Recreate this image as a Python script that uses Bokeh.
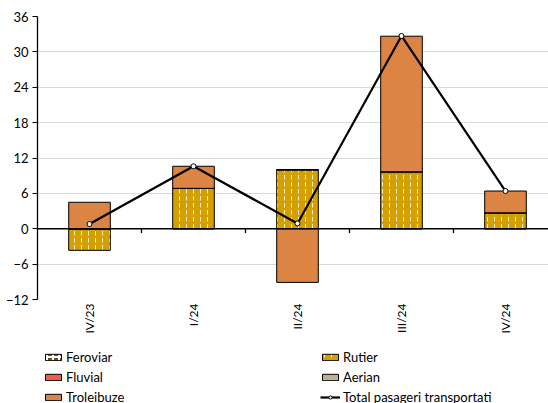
from bokeh.plotting import figure
from bokeh.layouts import column
from bokeh.models import Range1d, FixedTicker, Legend, LegendItem, Span
from bokeh.embed import file_html
from bokeh.resources import INLINE
import math

categories = ["IV/23", "I/24", "II/24", "III/24", "IV/24"]
feroviar = [0.0, 0.0, 0.0, 0.0, 0.0]
rutier = [-3.66, 6.85, 10.0, 9.66, 2.7]
fluvial = [0.0, 0.0, 0.0, 0.0, 0.0]
aerian = [0.0, 0.0, 0.0, 0.0, 0.0]
troleibuze = [4.49, 3.75, -9.1, 23.0, 3.7]
total = [0.8, 10.6, 0.9, 32.7, 6.4]
y_ticks = [-12, -6, 0, 6, 12, 18, 24, 30, 36]

FONT = "Lato"
xs = list(range(len(categories)))

p = figure(width=548, height=340, output_backend="svg", toolbar_location=None,
           x_range=Range1d(-0.5, -0.5 + 511 / 104), y_range=Range1d(-12, 36),
           min_border_left=37, min_border_right=0, min_border_top=16, min_border_bottom=41)
p.outline_line_color = None
p.xgrid.grid_line_color = None
p.ygrid.grid_line_color = "#d9d9d9"
p.ygrid.grid_line_width = 1
p.ygrid.ticker = FixedTicker(ticks=y_ticks)

p.yaxis.ticker = FixedTicker(ticks=y_ticks)
p.yaxis.axis_line_color = "black"
p.yaxis.axis_line_width = 1.3
p.yaxis.major_tick_line_color = "black"
p.yaxis.major_tick_out = 5
p.yaxis.major_tick_in = 0
p.yaxis.minor_tick_line_color = None
p.yaxis.major_label_text_font = FONT
p.yaxis.major_label_text_font_size = "13px"
p.yaxis.major_label_text_color = "black"
p.yaxis.major_label_standoff = 4

p.xaxis.ticker = FixedTicker(ticks=xs)
p.xaxis.major_label_overrides = {i: c for i, c in enumerate(categories)}
p.xaxis.axis_line_color = None
p.xaxis.major_tick_line_color = None
p.xaxis.minor_tick_line_color = None
p.xaxis.major_tick_out = 0
p.xaxis.major_label_orientation = math.pi / 2
p.xaxis.major_label_text_font = FONT
p.xaxis.major_label_text_font_size = "12px"
p.xaxis.major_label_text_color = "black"
p.xaxis.major_label_standoff = 4

series = [
    ("Feroviar", feroviar, dict(fill_color="#7a4c12", hatch_pattern="+", hatch_color="white", hatch_scale=6, hatch_weight=2)),
    ("Rutier", rutier, dict(fill_color="#d4a000", hatch_pattern=":", hatch_color="white", hatch_scale=7, hatch_weight=1, hatch_alpha=0.8)),
    ("Fluvial", fluvial, dict(fill_color="#e8604a")),
    ("Aerian", aerian, dict(fill_color="#bfae98")),
    ("Troleibuze", troleibuze, dict(fill_color="#db8443")),
]

# legend-only figure (same glyphs, drawn outside its visible range)
q = figure(width=548, height=63, output_backend="svg", toolbar_location=None,
           x_range=Range1d(100, 101), y_range=Range1d(100, 101),
           x_axis_location=None, y_axis_location=None,
           min_border_left=0, min_border_right=0, min_border_top=0, min_border_bottom=0)
q.grid.grid_line_color = None
q.outline_line_color = None

pos_base = [0.0] * len(categories)
neg_base = [0.0] * len(categories)
items = {}
for name, vals, style in series:
    bottoms, tops = [], []
    for i, v in enumerate(vals):
        if v >= 0:
            bottoms.append(pos_base[i]); tops.append(pos_base[i] + v); pos_base[i] += v
        else:
            bottoms.append(neg_base[i]); tops.append(neg_base[i] + v); neg_base[i] += v
    p.vbar(x=xs, bottom=bottoms, top=tops, width=0.4, line_color="black", line_width=1, **style)
    proxy = q.vbar(x=xs, bottom=bottoms, top=tops, width=0.4, line_color="black", line_width=1, **style)
    items[name] = LegendItem(label=name, renderers=[proxy])

# zero line and category-boundary ticks
p.add_layout(Span(location=0, dimension="width", line_color="black", line_width=1.3))
bounds = [i + 0.5 for i in range(len(categories) - 1)]
p.segment(x0=bounds, x1=bounds, y0=[0] * len(bounds), y1=[-0.7] * len(bounds), line_color="black", line_width=1.3)

p.line(xs, total, line_color="black", line_width=2.2)
p.scatter(xs, total, size=5, marker="circle", fill_color="white", line_color="black", line_width=1)
lp = q.line(xs, total, line_color="black", line_width=2.2)
sp = q.scatter(xs, total, size=5, marker="circle", fill_color="white", line_color="black", line_width=1)
items["Total pasageri transportati"] = LegendItem(label="Total pasageri transportati", renderers=[lp, sp])

order = ["Feroviar", "Fluvial", "Troleibuze", "Rutier", "Aerian", "Total pasageri transportati"]
legend = Legend(items=[items[k] for k in order], ncols=2, label_text_font=FONT, label_text_font_size="13px",
                label_text_color="black", glyph_width=20, glyph_height=8, label_height=16,
                label_width=250, label_standoff=3, spacing=4, padding=4, margin=0,
                border_line_color=None, background_fill_alpha=0, location=(6, -2))
q.add_layout(legend, "center")

open("out.html", "w").write(file_html(column(p, q, spacing=0), INLINE))
